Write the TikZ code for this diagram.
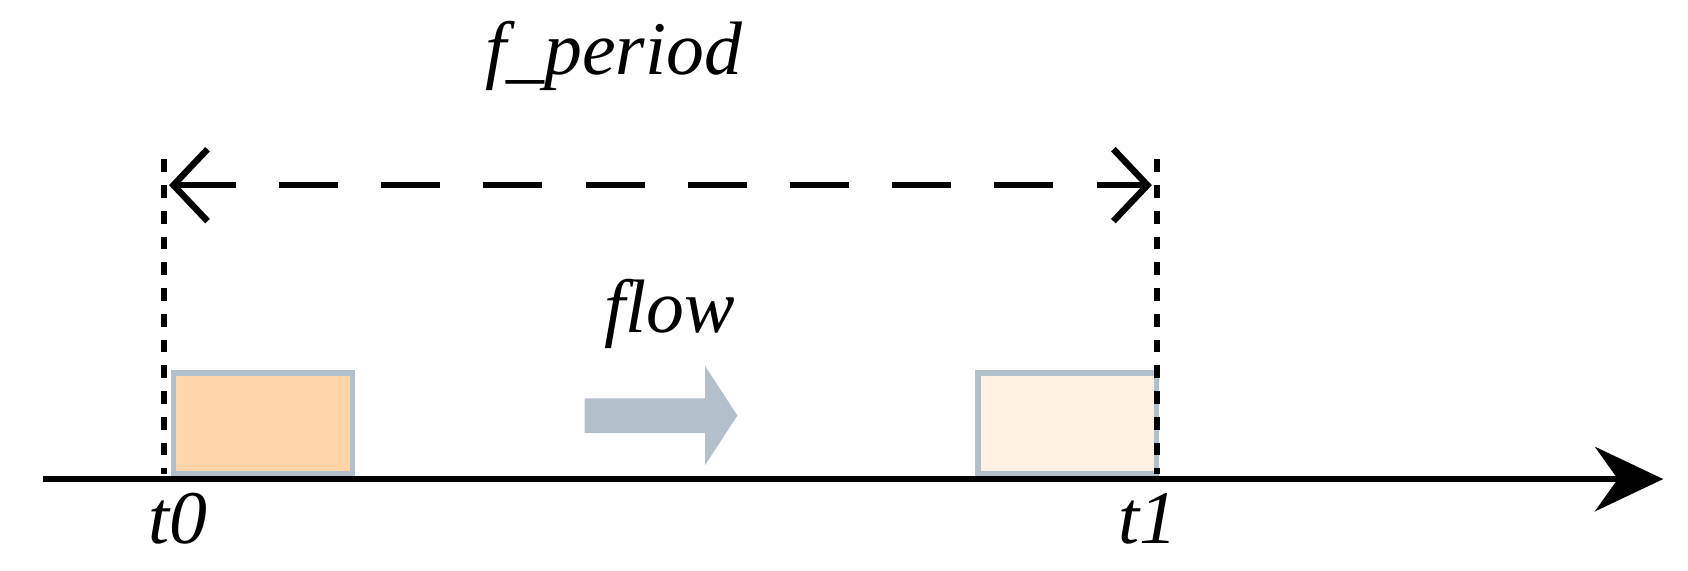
\documentclass[tikz,border=0pt]{standalone}
\usepackage{fontspec}
\setmainfont{Liberation Serif}
\usetikzlibrary{arrows.meta}
\definecolor{bord}{HTML}{B4BFCC}
\definecolor{fillA}{HTML}{FFD4A8}
\definecolor{fillB}{HTML}{FFF1E4}
\begin{document}
\begin{tikzpicture}[x=0.01cm,y=-0.01cm,
  lbl/.style={font=\fontsize{20}{23}\selectfont\itshape, inner sep=0pt},
  box/.style={draw=bord, line width=1.4pt, inner sep=0pt, minimum width=1.66cm, minimum height=0.93cm, anchor=south west},
  guide/.style={line width=1.6pt, dash pattern=on 3.4pt off 3.4pt},
  >={Straight Barb[length=9pt,width=19pt,line width=1.7pt]}]
\useasboundingbox (0,0) rectangle (1568,530);
% timeline
\coordinate (ts) at (40,445);
\coordinate (te) at (1545,445);
\draw[line width=1.6pt,-{Stealth[length=18pt,width=17pt,inset=6pt]}] (ts) -- (te);
% boxes
\node[box, fill=fillA] (b0) at (159,442) {};
\node[box, fill=fillB] (b1) at (906,442) {};
% guides
\coordinate (g0t) at (152,148); \coordinate (g0b) at (152,440);
\coordinate (g1t) at (1075,148); \coordinate (g1b) at (1075,440);
\draw[guide] (g0t) -- (g0b);
\draw[guide] (g1t) -- (g1b);
% period arrow
\coordinate (pa) at (157,172); \coordinate (pb) at (1070,172);
\draw[line width=1.7pt, dash pattern=on 15.6pt off 11.4pt, <->] (pa) -- (pb);
% flow arrow
\fill[bord] (543,370) -- (655,370) -- (655,340) -- (685,386) -- (655,432) -- (655,402) -- (543,402) -- cycle;
% labels
\node[lbl] (fp) at (570,52) {f\_period};
\node[lbl] (fl) at (622,292) {flow};
\node[lbl] (t0) at (165,482) {t0};
\node[lbl] (t1) at (1066,482) {t1};
\end{tikzpicture}
\end{document}
